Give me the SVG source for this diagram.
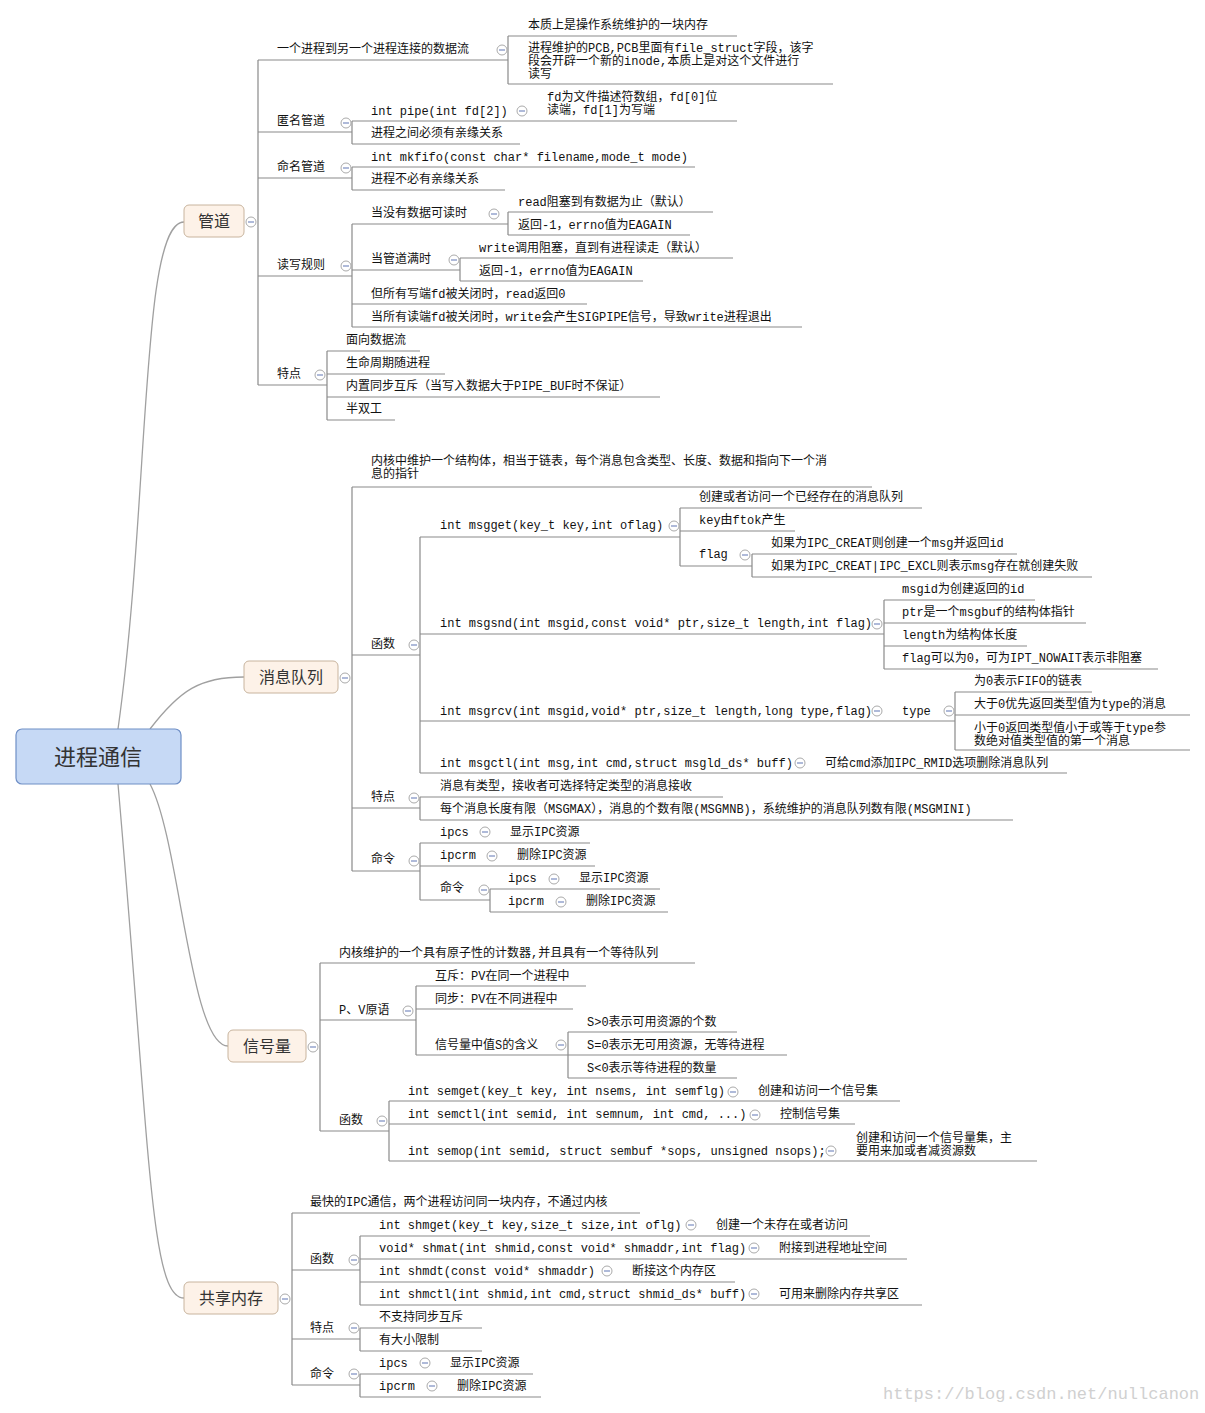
<svg xmlns="http://www.w3.org/2000/svg" width="1205" height="1413" viewBox="0 0 1205 1413">
<style>
text{font-family:"Liberation Mono","Noto Sans CJK SC",monospace;font-size:12px;fill:#111}
.u{stroke:#8a8a8a;stroke-width:1.2;fill:none}
.c{stroke:#8a8a8a;stroke-width:1.2;fill:none}
.cv{stroke:#a0a0a0;stroke-width:1.3;fill:none}
.mb{fill:#fdf2e8;stroke:#c8b49e;stroke-width:1}
.mt{font-family:"Noto Sans CJK SC",sans-serif;font-size:16px;fill:#333;text-anchor:middle}
</style>
<defs>
<g id="col"><circle r="5" fill="#fff" stroke="#aaa"/><line x1="-3" y1="0" x2="3" y2="0" stroke="#7a8cc0" stroke-width="1.2"/></g>
</defs>
<rect width="1205" height="1413" fill="#fff"/>
<g id="connectors">
<path class="cv" d="M118,729 C150,500 140,222 184,222"/>
<path class="cv" d="M150,729 C180,690 200,677 244,677"/>
<path class="cv" d="M150,784 C180,840 190,1046 228,1046"/>
<path class="cv" d="M118,784 C150,1150 150,1298 184,1298"/>
<path class="c" d="M258,60V385M508,36V84M352,121V144M352,167V190M352,224V327M508,212V235M460,258V281M327,351V420"/>
<path class="c" d="M352,487V871M420,537V773M680,508V566M752,554V577M884,600V669M955,692V750M420,797V820M420,843V900M490,889V912"/>
<path class="c" d="M320,963V1131M416,986V1055M568,1032V1078M389,1101V1161"/>
<path class="c" d="M292,1213V1385M360,1236V1305M360,1328V1351M360,1374V1397"/>
</g>
<g id="root"><rect x="16" y="729" width="165" height="55" rx="6" fill="#c6d9f5" stroke="#6f8fc6" stroke-width="1.2"/><text x="98" y="765" style="font-family:'Noto Sans CJK SC',sans-serif;font-size:22px;fill:#333;text-anchor:middle">进程通信</text></g>

<g id="guandao"><rect class="mb" x="184" y="205" width="60" height="32" rx="5"/><text class="mt" x="214" y="227">管道</text><use href="#col" x="251" y="222"/></g>
<g id="n1"><text x="277" y="53">一个进程到另一个进程连接的数据流</text><line class="u" x1="258" y1="60" x2="508" y2="60"/><use href="#col" x="502" y="50"/></g>
<g id="n1a"><text x="528" y="29">本质上是操作系统维护的一块内存</text><line class="u" x1="508" y1="36" x2="737" y2="36"/></g>
<g id="n1b"><text x="528" y="52">进程维护的PCB,PCB里面有file_struct字段，该字</text><text x="528" y="65">段会开辟一个新的inode,本质上是对这个文件进行</text><text x="528" y="78">读写</text><line class="u" x1="508" y1="84" x2="833" y2="84"/></g>
<g id="n2"><text x="277" y="125">匿名管道</text><line class="u" x1="258" y1="132" x2="352" y2="132"/><use href="#col" x="346" y="123"/></g>
<g id="n2a"><text x="371" y="115">int pipe(int fd[2])</text><line class="u" x1="352" y1="121" x2="737" y2="121"/><use href="#col" x="522" y="111"/></g>
<g id="n2a1"><text x="547" y="101">fd为文件描述符数组，fd[0]位</text><text x="547" y="114">读端，fd[1]为写端</text></g>
<g id="n2b"><text x="371" y="137">进程之间必须有亲缘关系</text><line class="u" x1="352" y1="144" x2="520" y2="144"/></g>
<g id="n3"><text x="277" y="171">命名管道</text><line class="u" x1="258" y1="178" x2="352" y2="178"/><use href="#col" x="346" y="168"/></g>
<g id="n3a"><text x="371" y="161">int mkfifo(const char* filename,mode_t mode)</text><line class="u" x1="352" y1="167" x2="695" y2="167"/></g>
<g id="n3b"><text x="371" y="183">进程不必有亲缘关系</text><line class="u" x1="352" y1="190" x2="505" y2="190"/></g>
<g id="n4"><text x="277" y="269">读写规则</text><line class="u" x1="258" y1="276" x2="352" y2="276"/><use href="#col" x="346" y="266"/></g>
<g id="n4a"><text x="371" y="217">当没有数据可读时</text><line class="u" x1="352" y1="224" x2="508" y2="224"/><use href="#col" x="494" y="214"/></g>
<g id="n4a1"><text x="518" y="206">read阻塞到有数据为止（默认）</text><line class="u" x1="508" y1="212" x2="713" y2="212"/></g>
<g id="n4a2"><text x="518" y="229">返回-1，errno值为EAGAIN</text><line class="u" x1="508" y1="235" x2="690" y2="235"/></g>
<g id="n4b"><text x="371" y="263">当管道满时</text><line class="u" x1="352" y1="270" x2="460" y2="270"/><use href="#col" x="454" y="260"/></g>
<g id="n4b1"><text x="479" y="252">write调用阻塞，直到有进程读走（默认）</text><line class="u" x1="460" y1="258" x2="733" y2="258"/></g>
<g id="n4b2"><text x="479" y="275">返回-1，errno值为EAGAIN</text><line class="u" x1="460" y1="281" x2="643" y2="281"/></g>
<g id="n4c"><text x="371" y="298">但所有写端fd被关闭时，read返回0</text><line class="u" x1="352" y1="304" x2="587" y2="304"/></g>
<g id="n4d"><text x="371" y="321">当所有读端fd被关闭时，write会产生SIGPIPE信号，导致write进程退出</text><line class="u" x1="352" y1="327" x2="802" y2="327"/></g>
<g id="n5"><text x="277" y="378">特点</text><line class="u" x1="258" y1="385" x2="327" y2="385"/><use href="#col" x="320" y="375"/></g>
<g id="n5a"><text x="346" y="344">面向数据流</text><line class="u" x1="327" y1="351" x2="420" y2="351"/></g>
<g id="n5b"><text x="346" y="367">生命周期随进程</text><line class="u" x1="327" y1="374" x2="445" y2="374"/></g>
<g id="n5c"><text x="346" y="390">内置同步互斥（当写入数据大于PIPE_BUF时不保证）</text><line class="u" x1="327" y1="397" x2="660" y2="397"/></g>
<g id="n5d"><text x="346" y="413">半双工</text><line class="u" x1="327" y1="420" x2="395" y2="420"/></g>

<g id="xiaoxi"><rect class="mb" x="244" y="661" width="94" height="32" rx="5"/><text class="mt" x="291" y="683">消息队列</text><use href="#col" x="345" y="678"/></g>
<g id="m1"><text x="371" y="465">内核中维护一个结构体，相当于链表，每个消息包含类型、长度、数据和指向下一个消</text><text x="371" y="478">息的指针</text><line class="u" x1="352" y1="487" x2="872" y2="487"/></g>
<g id="m2"><text x="371" y="648">函数</text><line class="u" x1="352" y1="655" x2="420" y2="655"/><use href="#col" x="414" y="645"/></g>
<g id="m2a"><text x="440" y="529">int msgget(key_t key,int oflag)</text><line class="u" x1="420" y1="537" x2="680" y2="537"/><use href="#col" x="674" y="526"/></g>
<g id="m2a1"><text x="699" y="501">创建或者访问一个已经存在的消息队列</text><line class="u" x1="680" y1="508" x2="922" y2="508"/></g>
<g id="m2a2"><text x="699" y="524">key由ftok产生</text><line class="u" x1="680" y1="531" x2="795" y2="531"/></g>
<g id="m2a3"><text x="699" y="558">flag</text><line class="u" x1="680" y1="566" x2="752" y2="566"/><use href="#col" x="745" y="555"/></g>
<g id="m2a3a"><text x="771" y="547">如果为IPC_CREAT则创建一个msg并返回id</text><line class="u" x1="752" y1="554" x2="1017" y2="554"/></g>
<g id="m2a3b"><text x="771" y="570">如果为IPC_CREAT|IPC_EXCL则表示msg存在就创建失败</text><line class="u" x1="752" y1="577" x2="1092" y2="577"/></g>
<g id="m2b"><text x="440" y="627">int msgsnd(int msgid,const void* ptr,size_t length,int flag)</text><line class="u" x1="420" y1="634" x2="884" y2="634"/><use href="#col" x="877" y="624"/></g>
<g id="m2b1"><text x="902" y="593">msgid为创建返回的id</text><line class="u" x1="884" y1="600" x2="1035" y2="600"/></g>
<g id="m2b2"><text x="902" y="616">ptr是一个msgbuf的结构体指针</text><line class="u" x1="884" y1="623" x2="1086" y2="623"/></g>
<g id="m2b3"><text x="902" y="639">length为结构体长度</text><line class="u" x1="884" y1="646" x2="1027" y2="646"/></g>
<g id="m2b4"><text x="902" y="662">flag可以为0，可为IPT_NOWAIT表示非阻塞</text><line class="u" x1="884" y1="669" x2="1158" y2="669"/></g>
<g id="m2c"><text x="440" y="715">int msgrcv(int msgid,void* ptr,size_t length,long type,flag)</text><line class="u" x1="420" y1="721" x2="883" y2="721"/><use href="#col" x="877" y="711"/></g>
<g id="m2c1"><text x="902" y="715">type</text><line class="u" x1="883" y1="721" x2="955" y2="721"/><use href="#col" x="949" y="711"/></g>
<g id="m2c1a"><text x="974" y="685">为0表示FIFO的链表</text><line class="u" x1="955" y1="692" x2="1092" y2="692"/></g>
<g id="m2c1b"><text x="974" y="708">大于0优先返回类型值为type的消息</text><line class="u" x1="955" y1="715" x2="1190" y2="715"/></g>
<g id="m2c1c"><text x="974" y="732">小于0返回类型值小于或等于type参</text><text x="974" y="745">数绝对值类型值的第一个消息</text><line class="u" x1="955" y1="750" x2="1190" y2="750"/></g>
<g id="m2d"><text x="440" y="767">int msgctl(int msg,int cmd,struct msgld_ds* buff)</text><line class="u" x1="420" y1="773" x2="1067" y2="773"/><use href="#col" x="800" y="763"/><text x="825" y="767">可给cmd添加IPC_RMID选项删除消息队列</text></g>
<g id="m3"><text x="371" y="801">特点</text><line class="u" x1="352" y1="808" x2="420" y2="808"/><use href="#col" x="414" y="798"/></g>
<g id="m3a"><text x="440" y="790">消息有类型，接收者可选择特定类型的消息接收</text><line class="u" x1="420" y1="797" x2="723" y2="797"/></g>
<g id="m3b"><text x="440" y="813">每个消息长度有限（MSGMAX），消息的个数有限(MSGMNB)，系统维护的消息队列数有限(MSGMINI)</text><line class="u" x1="420" y1="820" x2="1013" y2="820"/></g>
<g id="m4"><text x="371" y="863">命令</text><line class="u" x1="352" y1="871" x2="420" y2="871"/><use href="#col" x="414" y="861"/></g>
<g id="m4a"><text x="440" y="836">ipcs</text><use href="#col" x="485" y="832"/><text x="510" y="836">显示IPC资源</text><line class="u" x1="420" y1="843" x2="590" y2="843"/></g>
<g id="m4b"><text x="440" y="859">ipcrm</text><use href="#col" x="492" y="856"/><text x="517" y="859">删除IPC资源</text><line class="u" x1="420" y1="866" x2="595" y2="866"/></g>
<g id="m4c"><text x="440" y="892">命令</text><line class="u" x1="420" y1="900" x2="490" y2="900"/><use href="#col" x="484" y="890"/></g>
<g id="m4c1"><text x="508" y="882">ipcs</text><use href="#col" x="554" y="879"/><text x="579" y="882">显示IPC资源</text><line class="u" x1="490" y1="889" x2="660" y2="889"/></g>
<g id="m4c2"><text x="508" y="905">ipcrm</text><use href="#col" x="561" y="902"/><text x="586" y="905">删除IPC资源</text><line class="u" x1="490" y1="912" x2="668" y2="912"/></g>

<g id="xinhao"><rect class="mb" x="228" y="1030" width="78" height="32" rx="5"/><text class="mt" x="267" y="1052">信号量</text><use href="#col" x="313" y="1047"/></g>
<g id="s1"><text x="339" y="957">内核维护的一个具有原子性的计数器,并且具有一个等待队列</text><line class="u" x1="320" y1="963" x2="695" y2="963"/></g>
<g id="s2"><text x="339" y="1014">P、V原语</text><line class="u" x1="320" y1="1020" x2="416" y2="1020"/><use href="#col" x="408" y="1011"/></g>
<g id="s2a"><text x="435" y="980">互斥：PV在同一个进程中</text><line class="u" x1="416" y1="986" x2="586" y2="986"/></g>
<g id="s2b"><text x="435" y="1003">同步：PV在不同进程中</text><line class="u" x1="416" y1="1009" x2="573" y2="1009"/></g>
<g id="s2c"><text x="435" y="1049">信号量中值S的含义</text><line class="u" x1="416" y1="1055" x2="568" y2="1055"/><use href="#col" x="561" y="1045"/></g>
<g id="s2c1"><text x="587" y="1026">S&gt;0表示可用资源的个数</text><line class="u" x1="568" y1="1032" x2="737" y2="1032"/></g>
<g id="s2c2"><text x="587" y="1049">S=0表示无可用资源，无等待进程</text><line class="u" x1="568" y1="1055" x2="787" y2="1055"/></g>
<g id="s2c3"><text x="587" y="1072">S&lt;0表示等待进程的数量</text><line class="u" x1="568" y1="1078" x2="737" y2="1078"/></g>
<g id="s3"><text x="339" y="1124">函数</text><line class="u" x1="320" y1="1131" x2="389" y2="1131"/><use href="#col" x="382" y="1121"/></g>
<g id="s3a"><text x="408" y="1095">int semget(key_t key, int nsems, int semflg)</text><use href="#col" x="733" y="1092"/><text x="758" y="1095">创建和访问一个信号集</text><line class="u" x1="389" y1="1101" x2="900" y2="1101"/></g>
<g id="s3b"><text x="408" y="1118">int semctl(int semid, int semnum, int cmd, ...)</text><use href="#col" x="755" y="1115"/><text x="780" y="1118">控制信号集</text><line class="u" x1="389" y1="1124" x2="855" y2="1124"/></g>
<g id="s3c"><text x="408" y="1155">int semop(int semid, struct sembuf *sops, unsigned nsops);</text><use href="#col" x="831" y="1151"/><text x="856" y="1142">创建和访问一个信号量集，主</text><text x="856" y="1155">要用来加或者减资源数</text><line class="u" x1="389" y1="1161" x2="1037" y2="1161"/></g>

<g id="gongxiang"><rect class="mb" x="184" y="1282" width="94" height="32" rx="5"/><text class="mt" x="231" y="1304">共享内存</text><use href="#col" x="285" y="1299"/></g>
<g id="g1"><text x="310" y="1206">最快的IPC通信，两个进程访问同一块内存，不通过内核</text><line class="u" x1="292" y1="1213" x2="640" y2="1213"/></g>
<g id="g2"><text x="310" y="1263">函数</text><line class="u" x1="292" y1="1270" x2="360" y2="1270"/><use href="#col" x="354" y="1260"/></g>
<g id="g2a"><text x="379" y="1229">int shmget(key_t key,size_t size,int oflg)</text><use href="#col" x="691" y="1225"/><text x="716" y="1229">创建一个未存在或者访问</text><line class="u" x1="360" y1="1236" x2="870" y2="1236"/></g>
<g id="g2b"><text x="379" y="1252">void* shmat(int shmid,const void* shmaddr,int flag)</text><use href="#col" x="754" y="1248"/><text x="779" y="1252">附接到进程地址空间</text><line class="u" x1="360" y1="1259" x2="907" y2="1259"/></g>
<g id="g2c"><text x="379" y="1275">int shmdt(const void* shmaddr)</text><use href="#col" x="607" y="1271"/><text x="632" y="1275">断接这个内存区</text><line class="u" x1="360" y1="1282" x2="735" y2="1282"/></g>
<g id="g2d"><text x="379" y="1298">int shmctl(int shmid,int cmd,struct shmid_ds* buff)</text><use href="#col" x="754" y="1294"/><text x="779" y="1298">可用来删除内存共享区</text><line class="u" x1="360" y1="1305" x2="922" y2="1305"/></g>
<g id="g3"><text x="310" y="1332">特点</text><line class="u" x1="292" y1="1339" x2="360" y2="1339"/><use href="#col" x="354" y="1328"/></g>
<g id="g3a"><text x="379" y="1321">不支持同步互斥</text><line class="u" x1="360" y1="1328" x2="482" y2="1328"/></g>
<g id="g3b"><text x="379" y="1344">有大小限制</text><line class="u" x1="360" y1="1351" x2="482" y2="1351"/></g>
<g id="g4"><text x="310" y="1378">命令</text><line class="u" x1="292" y1="1385" x2="360" y2="1385"/><use href="#col" x="354" y="1374"/></g>
<g id="g4a"><text x="379" y="1367">ipcs</text><use href="#col" x="425" y="1363"/><text x="450" y="1367">显示IPC资源</text><line class="u" x1="360" y1="1374" x2="533" y2="1374"/></g>
<g id="g4b"><text x="379" y="1390">ipcrm</text><use href="#col" x="432" y="1386"/><text x="457" y="1390">删除IPC资源</text><line class="u" x1="360" y1="1397" x2="541" y2="1397"/></g>
<text x="883" y="1399" style="font-size:17px;fill:#d0d0d0;font-family:'Liberation Mono',monospace">https://blog.csdn.net/nullcanon</text>
</svg>
